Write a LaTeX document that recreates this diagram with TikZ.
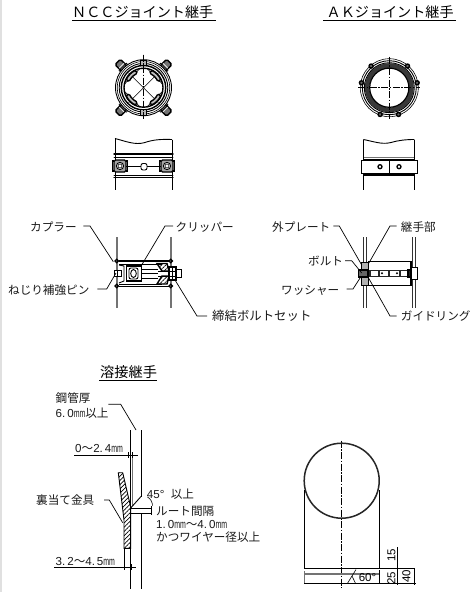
\documentclass[tikz,border=0pt]{standalone}
\usepackage{fontspec}
\setmainfont{Noto Sans CJK JP}
\newfontfamily\dimf{Liberation Sans}
\usetikzlibrary{patterns.meta}
\tikzset{
  x=1pt,y=-1pt,
  thin line/.style={line width=0.6pt,black},
  med line/.style={line width=0.9pt,black},
  thick line/.style={line width=1.4pt,black},
  gray line/.style={line width=1.6pt,black!55},
  center line/.style={line width=0.6pt,black,dash pattern=on 7pt off 1.5pt on 1.5pt off 1.5pt},
  leader/.style={line width=0.7pt,black},
  titletext/.style={inner sep=0,anchor=base west,font=\fontsize{14.1}{15}\selectfont},
  lbl/.style={inner sep=0,anchor=base west,font=\fontsize{11.6}{12}\selectfont,text=black!90},
  dimlbl/.style={inner sep=0,anchor=base west,font=\fontsize{11.6}{12}\selectfont,text=black!90},
  hatchfill/.style={pattern={Lines[angle=45,distance=3pt,line width=0.7pt]}},
}
\newcommand{\mm}{{\dimf\scalebox{0.6}[1]{mm}}}
\begin{document}
\begin{tikzpicture}
\useasboundingbox (0,0) rectangle (474,592);
\fill[white] (0,0) rectangle (474,592);
\fill[black!12] (0,0) rectangle (1.5,592);

% --- titles
\node[titletext] (t1) at (72,17.8) {ＮＣＣジョイント継手};
\draw[thin line] (72,20.5) -- (216,20.5);
\node[titletext] (t2) at (326.5,17.8) {ＡＫジョイント継手};
\draw[thin line] (323,20.5) -- (456,20.5);
\node[titletext,font=\fontsize{14.2}{15}\selectfont] (t3) at (100,377.5) {溶接継手};
\draw[thin line] (99,380.5) -- (157,380.5);

% --- NCC top view
\coordinate (nc) at (143.5,87.7);
\begin{scope}[shift={(nc)}]
  \foreach \a in {45,135,225,315}{
    \begin{scope}[rotate=\a]
      \draw[thick line,fill=black!55,rounded corners=1.5pt] (27,-3.8) rectangle (36.5,3.8);
      \draw[thin line,white] (31,-3.5) -- (31,3.5);
      \draw[thin line] (27,-5.2) rectangle (29.5,5.2);
    \end{scope}
  }
  \draw[med line,fill=white] (0,0) circle [radius=28];
  \draw[thin line] (0,0) circle [radius=26.3];
  \draw[med line] (0,0) circle [radius=24.3];
  \draw[thick line] (0,0) circle [radius=22.2];
  \draw[thick line] (0,0) circle [radius=19.5];
  \draw[thin line] (-15,-15) -- (15,15) (-15,15) -- (15,-15);
  \foreach \a in {0,90,180,270}{
    \begin{scope}[rotate=\a]
      \draw[thin line] (-4,-18.5) -- (-14,-10);
      \draw[thin line] (4,-18.5) -- (14,-10);
    \end{scope}
  }
  \foreach \a in {45,135,225,315}{
    \begin{scope}[rotate=\a]
      \draw[thick line,fill=black!25,rounded corners=1.5pt] (-22:19) arc [start angle=-22,end angle=22,radius=19] -- (22:15.5) arc [start angle=22,end angle=-22,radius=15.5] -- cycle;
    \end{scope}
    }
  \draw[center line] (0,-33) -- (0,33);
  \draw[med line,fill=black!30] (-3,-27.5) rectangle (3,-22);
  \draw[med line,fill=black!30] (-3,22) rectangle (3,27.5);
  \draw[center line] (0,-33) -- (0,33);
\end{scope}

% --- NCC side view
\draw[med line] (115,138.5) .. controls (125,141) and (135,145.5) .. (145,142.5) .. controls (152,140) and (160,139) .. (172,139.5);
\draw[med line] (115,138.5) -- (115,190) (172,139.5) -- (172,190);
\draw[thick line,line cap=round] (114,154) -- (173,154);
\draw[med line,line cap=round] (114,157) -- (173,157);
\draw[med line,line cap=round] (114,175) -- (173,175);
\draw[thick line,line cap=round] (114,177.5) -- (173,177.5);
\draw[med line,rounded corners=2pt] (141,163.5) rectangle (147,170);
\foreach \x in {120,167}{
  \draw[thick line,fill=black!35,rounded corners=1.5pt] (\x-6,160) rectangle (\x+6,172);
  \draw[med line,fill=white] (\x,166) circle [radius=3.6];
  \draw[thin line] (\x,166) circle [radius=2];
  \draw[thick line] (\x-6,161) -- (\x-7.5,161) -- (\x-7.5,171) -- (\x-6,171);
  \draw[thick line] (\x+6,161) -- (\x+7.5,161) -- (\x+7.5,171) -- (\x+6,171);
}
\draw[thin line] (126,166) -- (141,166) (147,166) -- (161,166);

% --- AK top view
\coordinate (ac) at (389.3,87.7);
\begin{scope}[shift={(ac)}]
  \draw[thin line] (0,0) circle [radius=29];
  \draw[med line] (0,0) circle [radius=27];
  \draw[line width=4.6pt,black!78] (0,0) circle [radius=22.2];
  \draw[line width=1.2pt] (0,0) circle [radius=19.6];
  \draw[med line] (0,0) circle [radius=25];
  \foreach \a in {-170,-130,-50,-10,71,109}{
    \draw[thick line,fill=black!60] (\a:28.3) circle [radius=2];
  }
  \draw[center line] (0,-31) -- (0,31);
  \draw[center line] (-31,0) -- (31,0);
\end{scope}

% --- AK side view
\draw[med line] (363.3,139.5) .. controls (372,141) and (382,145) .. (391,142.5) .. controls (398,140.5) and (405,139.5) .. (414.3,139.5);
\draw[med line] (363.3,139.5) -- (363.3,160.7) (414.3,139.5) -- (414.3,160.7);
\draw[med line] (363.3,173.3) -- (363.3,190) (414.3,173.3) -- (414.3,190);
\draw[gray line] (364,157.5) -- (414,157.5);
\draw[med line] (363,159.7) -- (415,159.7);
\draw[thick line] (364,174.8) -- (414,174.8);
\draw[thick line] (361.7,160.7) rectangle (417.3,173.3);
\draw[med line] (389.3,160.7) -- (389.3,173.3);
\foreach \x in {380,399}{\draw[line width=1.3pt] (\x,166.7) circle [radius=2];}

% --- NCC section
\draw[gray line] (116.7,237) -- (116.7,308);
\draw[gray line] (170.7,237) -- (170.7,308);
\draw[thick line] (119,261) -- (169,261);
\draw[thick line] (119,286.5) -- (169,286.5);
\draw[med line] (119,264) -- (162,264);
\draw[med line] (119,284) -- (162,284);
\foreach \x/\y in {116.7/261,170.7/261,116.7/286,170.7/286}{
  \draw[thick line,fill=black!40] (\x,\y) circle [radius=1.7];
}
\draw[med line] (119,265) -- (124,266) -- (124,281) -- (119,283);
\draw[med line,fill=white] (114,270) rectangle (121,276.5);
\draw[thick line] (117.5,269.5) -- (117.5,277);
\draw[thick line,fill=white] (126.7,266) rectangle (141.7,281);
\draw[med line,rounded corners=2pt] (129,268) rectangle (138,279);
\draw[med line] (133.5,273.5) ellipse [x radius=2.8,y radius=4];
\draw[med line] (141.7,269) -- (158,269);
\draw[med line] (141.7,273.5) -- (158,273.5);
\draw[med line] (141.7,278) -- (158,278);
\draw[thick line,hatchfill] (157,263.5) -- (167,263.5) -- (169,271) -- (162,271) -- cycle;
\draw[thick line,hatchfill] (157,284) -- (167,284) -- (169,276) -- (162,276) -- cycle;
\draw[thick line,fill=white] (169,267) rectangle (176,280);
\draw[med line,fill=white] (176,269.5) rectangle (181,277.5);
\draw[thin line] (172.5,267) -- (172.5,280);
\draw[thin line] (158,271.2) -- (176,271.2) (158,275.8) -- (176,275.8);

% --- AK section
\foreach \x in {363.3,366,412.3,415}{\draw[med line,black!80] (\x,237) -- (\x,308);}
\draw[med line,fill=white] (368.3,261.7) rectangle (411.7,285);
\fill[black!85] (368.3,270) rectangle (412,276.5);
\foreach \x/\w in {371/7,380/8,390/9,401/7}{\fill[white] (\x,271) rectangle (\x+\w,275.5);}
\foreach \x in {382,397}{\fill[black] (\x,273.2) circle [radius=1.2];}
\draw[med line,fill=black!30] (361,262) rectangle (368,270);
\draw[med line,fill=black!30] (361,277) rectangle (368,285);
\draw[thick line,fill=black!60] (358.5,270) rectangle (368,277);
\draw[thick line] (411,262) -- (411,285);
\draw[med line,fill=white] (412,267) -- (417.5,267) -- (417.5,279) -- (412,279);
\draw[thick line] (408,270) rectangle (411,277);

% --- section labels + leaders
\node[lbl] (kap) at (30,231) {カプラー};
\coordinate (kapA) at (90,226); \coordinate (kapB) at (113.3,261.7);
\draw[leader] (83.3,226) -- (kapA) -- (kapB);
\node[lbl] (kur) at (175.5,231) {クリッパー};
\coordinate (kurA) at (165,226); \coordinate (kurB) at (141.7,265);
\draw[leader] (173,226) -- (kurA) -- (kurB);
\node[lbl] (nej) at (8,294) {ねじり補強ピン};
\coordinate (nejA) at (106.7,289); \coordinate (nejB) at (116,273);
\draw[leader] (97.3,289) -- (nejA) -- (nejB);
\node[lbl,font=\fontsize{12.4}{12}\selectfont] (tei) at (212,320) {締結ボルトセット};
\coordinate (teiA) at (197,316); \coordinate (teiB) at (175,280);
\draw[leader] (207,316) -- (teiA) -- (teiB);

\node[lbl] (sot) at (272,231) {外プレート};
\coordinate (sotA) at (339.3,226); \coordinate (sotB) at (361.7,265);
\draw[leader] (333.3,226) -- (sotA) -- (sotB);
\node[lbl] (tsu) at (400.7,231) {継手部};
\coordinate (tsuA) at (390,226); \coordinate (tsuB) at (368.3,264);
\draw[leader] (396.7,226) -- (tsuA) -- (tsuB);
\node[lbl] (bol) at (308,265.5) {ボルト};
\coordinate (bolA) at (351.7,260.7); \coordinate (bolB) at (361.7,273);
\draw[leader] (345,260.7) -- (bolA) -- (bolB);
\node[lbl] (was) at (281,294) {ワッシャー};
\coordinate (wasA) at (353,289); \coordinate (wasB) at (360.7,277);
\draw[leader] (346.7,289) -- (wasA) -- (wasB);
\node[lbl] (gai) at (400.7,320) {ガイドリング};
\coordinate (gaiA) at (390,316); \coordinate (gaiB) at (368,277);
\draw[leader] (396.7,316) -- (gaiA) -- (gaiB);

% --- weld detail
\draw[med line] (130.7,430) -- (130.7,589);
\draw[med line] (141,430) -- (141,496.5);
\draw[med line] (141,513) -- (141,589);
\draw[gray line,line width=1pt] (132.7,455) -- (132.7,506);
\draw[med line] (130.7,508) -- (141,496.5);
\draw[med line] (130.7,508) -- (151.7,508);
\draw[med line] (130.7,513) -- (151.7,513);
\draw[med line] (151.7,506) -- (151.7,515);
\draw[thin line] (147.5,497) arc [start angle=-60,end angle=0,radius=10];
\draw[med line,hatchfill] (118.3,472.7) -- (122.7,472.7) -- (130.7,507) -- (130.7,548.3) -- (124,548.3) -- (124,520) -- cycle;
\draw[thin line] (74,455) -- (137.7,455);
\draw[thin line] (128.3,452) -- (128.3,458);
\draw[thin line] (132.7,452) -- (132.7,458);
\draw[thin line] (54,567.3) -- (135.7,567.3);
\draw[thin line] (124,548.3) -- (124,570);
\draw[thin line] (131,564) -- (131,570);

\node[dimlbl] (kou1) at (55.5,402.5) {鋼管厚};
\node[dimlbl] (kou2) at (55.5,417.5) {\dimf 6.\,0\mm\fontspec{Noto Sans CJK JP}以上};
\coordinate (kouA) at (120.7,404.3); \coordinate (kouB) at (136,430);
\draw[leader] (108.3,404.3) -- (kouA) -- (kouB);
\node[dimlbl] (d1) at (75,452.5) {\dimf 0\fontspec{Noto Sans CJK JP}～\dimf 2.\,4\mm};
\node[lbl] (ura) at (36,504.5) {裏当て金具};
\coordinate (uraA) at (109.3,500); \coordinate (uraB) at (122.7,522.7);
\draw[leader] (104,500) -- (uraA) -- (uraB);
\node[dimlbl] (d45) at (146.7,498) {\dimf 45°\ \ \fontspec{Noto Sans CJK JP}以上};
\node[lbl] (rut) at (156,515) {ルート間隔};
\node[dimlbl] (rut2) at (156,528.5) {\dimf 1.\,0\mm\fontspec{Noto Sans CJK JP}～\dimf 4.\,0\mm};
\node[lbl] (rut3) at (156,541) {かつワイヤー径以上};
\node[dimlbl] (d2) at (55.5,565.5) {\dimf 3.\,2\fontspec{Noto Sans CJK JP}～\dimf 4.\,5\mm};

% --- bevel figure
\draw[center line] (341.7,440.7) -- (341.7,588);
\draw[line width=1.5pt,black!85] (341.7,480.7) circle [radius=37.5];
\draw[med line] (304.3,490) -- (304.3,568.3);
\draw[med line] (379.3,490) -- (379.3,568.3);
\draw[med line] (304.3,568.3) -- (414,568.3);
\draw[gray line] (304.3,574) -- (379.3,574);
\draw[med line] (304.3,583.3) -- (416,583.3);
\draw[gray line] (304.3,571) -- (304.3,583.3);
\draw[thick line] (379.3,570) -- (379.3,583.3);
\draw[thin line] (397.3,547.3) -- (397.3,585);
\draw[thin line] (414,568.3) -- (414,585);
\draw[thin line] (347.5,583.3) -- (356,569.5);
\draw[thin line] (352,576) -- (355.5,583.3);
\node[inner sep=0,font=\dimf\fontsize{11.5}{12}\selectfont] (a60) at (367.5,578) {60°};
\node[inner sep=0,rotate=90,font=\dimf\fontsize{11.5}{12}\selectfont] (n15) at (391.5,555) {15};
\node[inner sep=0,rotate=90,font=\dimf\fontsize{11.5}{12}\selectfont] (n25) at (391.5,578) {25};
\node[inner sep=0,rotate=90,font=\dimf\fontsize{11.5}{12}\selectfont] (n40) at (406.5,576) {40};
\end{tikzpicture}
\end{document}
